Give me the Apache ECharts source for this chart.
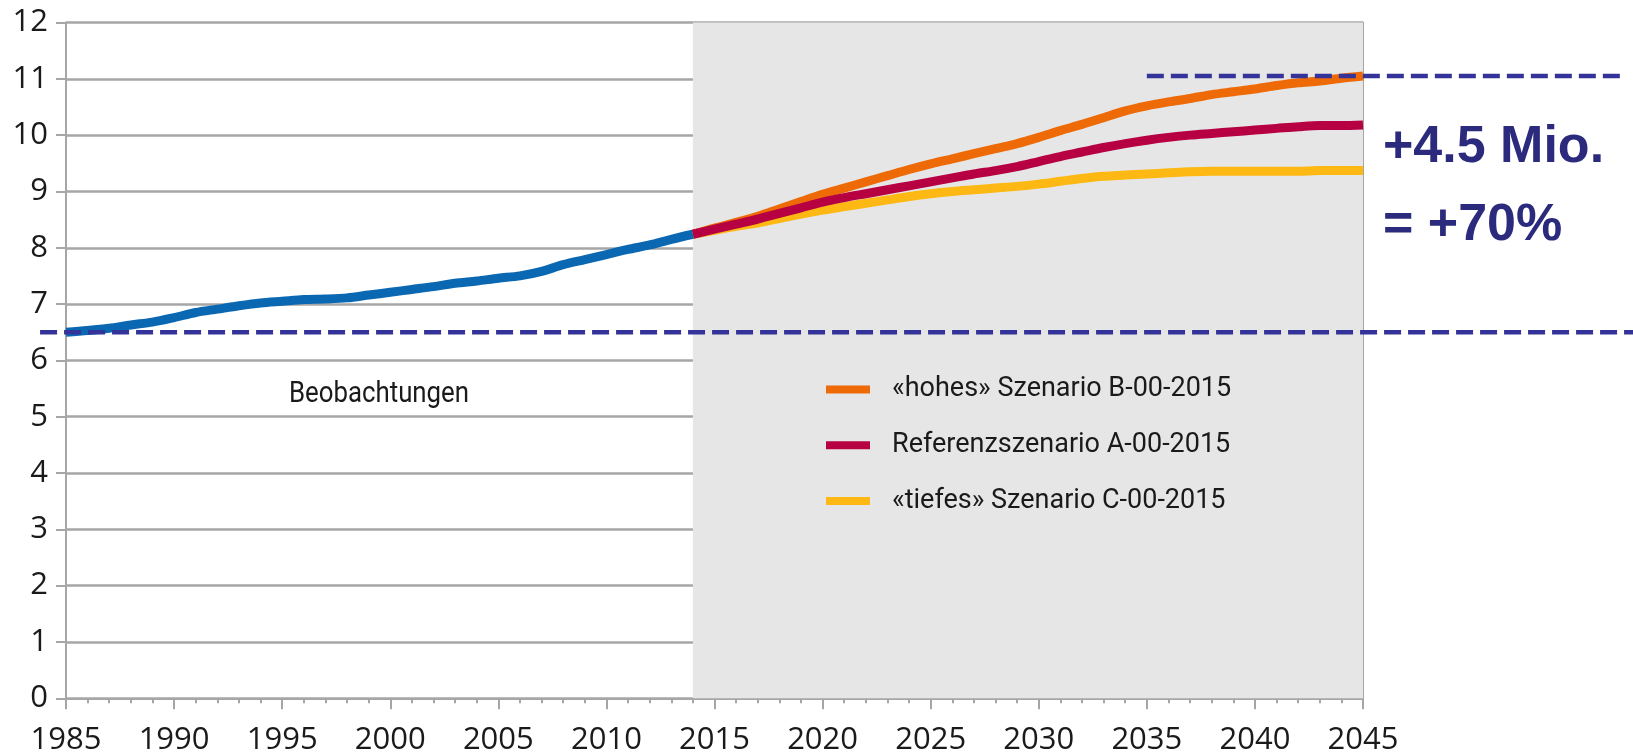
<!DOCTYPE html>
<html>
<head>
<meta charset="utf-8">
<script src="https://cdn.jsdelivr.net/npm/echarts@6/dist/echarts.min.js"></script>
<style>
html,body{margin:0;padding:0;background:#fff;}
#chart{width:1633px;height:755px;}
</style>
</head>
<body>
<div id="chart"></div>
<script>
// ---- data ----
const obsYears = [1985,1986,1987,1988,1989,1990,1991,1992,1993,1994,1995,1996,1997,1998,1999,2000,2001,2002,2003,2004,2005,2006,2007,2008,2009,2010,2011,2012,2013,2014];
const obsValues = [6.50,6.53,6.57,6.63,6.68,6.76,6.85,6.91,6.97,7.02,7.05,7.08,7.09,7.11,7.16,7.21,7.26,7.31,7.37,7.41,7.46,7.50,7.58,7.70,7.79,7.88,7.97,8.05,8.15,8.24];
const scenYears = [2014,2015,2016,2017,2018,2019,2020,2021,2022,2023,2024,2025,2026,2027,2028,2029,2030,2031,2032,2033,2034,2035,2036,2037,2038,2039,2040,2041,2042,2043,2044,2045];
const highValues = [8.24,8.35,8.45,8.56,8.69,8.82,8.95,9.06,9.17,9.28,9.39,9.49,9.58,9.67,9.76,9.85,9.96,10.08,10.19,10.31,10.43,10.52,10.59,10.65,10.72,10.77,10.82,10.88,10.93,10.96,11.01,11.05];
const refValues = [8.24,8.33,8.42,8.51,8.61,8.71,8.81,8.89,8.96,9.03,9.10,9.17,9.24,9.31,9.37,9.44,9.53,9.62,9.70,9.78,9.85,9.91,9.96,10.00,10.03,10.06,10.09,10.12,10.15,10.17,10.17,10.18];
const lowValues = [8.24,8.31,8.38,8.44,8.52,8.60,8.67,8.73,8.79,8.85,8.91,8.96,9.00,9.03,9.06,9.09,9.13,9.18,9.23,9.27,9.29,9.31,9.33,9.35,9.36,9.36,9.36,9.36,9.36,9.37,9.37,9.37];
const seriesNames = ['«hohes» Szenario B-00-2015','Referenzszenario A-00-2015','«tiefes» Szenario C-00-2015'];
const forecastSpan = [2014, 2045];
const refLowValue = 6.5;
const refLowSpan = [1983.8, 2057.6];
const refHighValue = 11.05;
const refHighSpan = [2035, 2057.0];
const annotation = ['+4.5 Mio.', '= +70%'];
const obsLabel = 'Beobachtungen';

// ---- layout ----
const W = 1633, GL = 66, GR = 270, GT = 22.5, GB = 56.7;
const xMin = 1985, xMax = 2045;
const ppy = (W - GL - GR) / (xMax - xMin);
const x2Min = xMin - GL / ppy, x2Max = xMax + GR / ppy;

const FONT = "'Open Sans', sans-serif";
const FONT2 = "Roboto, 'Open Sans', sans-serif";
const GRID = '#a6a6a6';
const pair = (xs, ys) => xs.map((x, i) => [x, ys[i]]);

const chart = echarts.init(document.getElementById('chart'), null, {renderer: 'canvas'});
chart.setOption({
  animation: false,
  backgroundColor: '#ffffff',
  grid: [
    {left: GL, right: GR, top: GT, bottom: GB, containLabel: false, outerBoundsMode: 'none'},
    {left: 0, right: 0, top: GT, bottom: GB, containLabel: false, outerBoundsMode: 'none'}
  ],
  xAxis: [
    {type: 'value', gridIndex: 0, min: xMin, max: xMax, interval: 5,
     axisLine: {show: true, lineStyle: {color: GRID, width: 2}},
     axisTick: {show: true, length: 11, lineStyle: {color: GRID, width: 2}},
     minorTick: {show: true, splitNumber: 5, length: 5, lineStyle: {color: GRID, width: 2}},
     splitLine: {show: false},
     axisLabel: {fontFamily: FONT, fontSize: 31, color: '#1a1a1a', margin: 26, lineHeight: 31, formatter: v => String(v)}},
    {type: 'value', gridIndex: 1, min: x2Min, max: x2Max, show: false}
  ],
  yAxis: [
    {type: 'value', gridIndex: 0, min: 0, max: 12, interval: 1,
     axisLine: {show: true, lineStyle: {color: GRID, width: 2}},
     axisTick: {show: true, length: 10, lineStyle: {color: GRID, width: 2}},
     splitLine: {show: true, lineStyle: {color: GRID, width: 2.5}},
     axisLabel: {fontFamily: FONT, fontSize: 31, color: '#1a1a1a', margin: 18}},
    {type: 'value', gridIndex: 0, min: 0, max: 12, position: 'right',
     axisLine: {show: true, lineStyle: {color: GRID, width: 2}},
     axisTick: {show: false}, axisLabel: {show: false}, splitLine: {show: false}},
    {type: 'value', gridIndex: 1, min: 0, max: 12, show: false}
  ],
  legend: {
    orient: 'vertical', left: 826, top: 373.5, padding: 0,
    data: seriesNames,
    icon: 'rect', itemWidth: 44, itemHeight: 8, itemGap: 23.7,
    textStyle: {fontFamily: FONT2, fontSize: 27, color: '#1a1a1a', lineHeight: 32, padding: [0, 0, 0, 17]}
  },
  graphic: [
    {type: 'text', x: 289, y: 394, scaleX: 0.86, style: {text: obsLabel, font: "30px Roboto, 'Open Sans', sans-serif", fill: '#1a1a1a', verticalAlign: 'middle'}},
    {type: 'text', left: 1383, top: 122, style: {text: annotation[0], font: "bold 52px 'Liberation Sans', Arial, sans-serif", fill: '#2b2a7c'}},
    {type: 'text', left: 1383, top: 200, style: {text: annotation[1], font: "bold 52px 'Liberation Sans', Arial, sans-serif", fill: '#2b2a7c'}}
  ],
  series: [
    {type: 'line', name: 'shade', xAxisIndex: 0, yAxisIndex: 0, data: [], z: -1, silent: true,
     markArea: {silent: true, itemStyle: {color: '#e6e6e6'}, data: [[{xAxis: forecastSpan[0]}, {xAxis: forecastSpan[1]}]]}},
    {type: 'line', name: seriesNames[2], xAxisIndex: 0, yAxisIndex: 0, data: pair(scenYears, lowValues),
     showSymbol: false, smooth: 0.3, lineStyle: {color: '#fdb813', width: 9}, itemStyle: {color: '#fdb813'}, z: 3},
    {type: 'line', name: seriesNames[0], xAxisIndex: 0, yAxisIndex: 0, data: pair(scenYears, highValues),
     showSymbol: false, smooth: 0.3, lineStyle: {color: '#ee6a06', width: 9}, itemStyle: {color: '#ee6a06'}, z: 4},
    {type: 'line', name: seriesNames[1], xAxisIndex: 0, yAxisIndex: 0, data: pair(scenYears, refValues),
     showSymbol: false, smooth: 0.3, lineStyle: {color: '#b70042', width: 9}, itemStyle: {color: '#b70042'}, z: 5},
    {type: 'line', name: 'Beobachtungen', xAxisIndex: 0, yAxisIndex: 0, data: pair(obsYears, obsValues),
     showSymbol: false, smooth: 0.3, lineStyle: {color: '#0a67b2', width: 9}, z: 6},
    {type: 'line', name: 'refLow', xAxisIndex: 1, yAxisIndex: 2,
     data: refLowSpan.map(x => [x, refLowValue]), showSymbol: false, z: 8,
     lineStyle: {color: '#333399', width: 4.5, type: [17, 7]}},
    {type: 'line', name: 'refHigh', xAxisIndex: 1, yAxisIndex: 2,
     data: refHighSpan.map(x => [x, refHighValue]), showSymbol: false, z: 8,
     lineStyle: {color: '#333399', width: 4.5, type: [17, 7]}}
  ]
});
</script>
</body>
</html>
